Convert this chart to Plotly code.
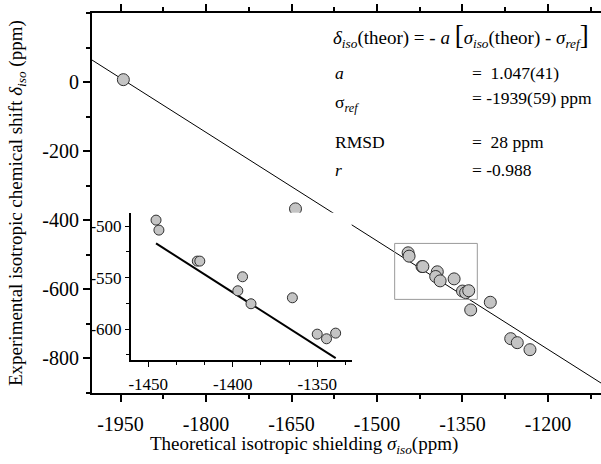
import plotly.graph_objects as go

# ---------------- data ----------------
sigma_iso = [-1945, -1643, -1445.4, -1443.7, -1421.0, -1419.5, -1394.2, -1397.0,
             -1389.2, -1364.7, -1350.0, -1344.5, -1339.1, -1335.6, -1301.2,
             -1265.4, -1253.9, -1231.6]
delta_iso = [7, -367, -494.2, -503.9, -534.0, -534.0, -549.2, -562.8,
             -575.4, -569.6, -604.9, -609.4, -603.9, -659.6, -637.3,
             -742.7, -754.3, -774.6]
a_fit = 1.047
sigma_ref = -1939

main_xticks = [-1950, -1800, -1650, -1500, -1350, -1200]
main_yticks = [-800, -600, -400, -200, 0]
inset_xticks = [-1450, -1400, -1350]
inset_yticks = [-600, -550, -500]

main_xrange = [-2000, -1107]
main_yrange = [-900, 200]
inset_xrange = [-1460.4, -1329.6]
inset_yrange = [-630, -487]
box_x = [-1469, -1324]
box_y = [-629, -467]

def fit(s):
    return -a_fit * (s - sigma_ref)

# ---------------- layout geometry ----------------
W, H = 601, 464
L, R, T, B = 92, 0, 13, 71
PW, PH = W - L - R, H - T - B

def px(x, y):
    return (x - L) / PW, (H - B - y) / PH

FONT = "Liberation Serif"

fig = go.Figure()

# main fit line
fig.add_trace(go.Scatter(x=main_xrange, y=[fit(v) for v in main_xrange],
                         mode="lines", line=dict(color="black", width=1),
                         xaxis="x", yaxis="y", hoverinfo="skip"))
# main points
fig.add_trace(go.Scatter(x=sigma_iso, y=delta_iso, mode="markers",
                         marker=dict(size=12, color="#c4c4c4",
                                     line=dict(color="#303030", width=1)),
                         xaxis="x", yaxis="y"))

# inset
in_pts = [(s, d) for s, d in zip(sigma_iso, delta_iso)
          if inset_xrange[0] <= s <= inset_xrange[1] and inset_yrange[0] <= d <= inset_yrange[1]]
lx = [min(p[0] for p in in_pts), max(p[0] for p in in_pts)]
fig.add_trace(go.Scatter(x=lx, y=[fit(v) for v in lx], mode="lines",
                         line=dict(color="black", width=2),
                         xaxis="x2", yaxis="y2", hoverinfo="skip"))
fig.add_trace(go.Scatter(x=sigma_iso, y=delta_iso, mode="markers",
                         marker=dict(size=10, color="#c4c4c4",
                                     line=dict(color="#303030", width=1)),
                         xaxis="x2", yaxis="y2"))

ix0, iy0 = px(130.7, 360)
ix1, iy1 = px(351.7, 212.7)

def labels(vals):
    return [str(v) for v in vals]

fig.update_layout(
    width=W, height=H, margin=dict(l=L, r=R, t=T, b=B),
    paper_bgcolor="white", plot_bgcolor="white", showlegend=False,
    font=dict(family=FONT, color="black"),
    xaxis=dict(domain=[0, 1], range=main_xrange, tickvals=main_xticks,
               ticktext=labels(main_xticks), ticklabelstandoff=5,
               showline=True, linecolor="black", linewidth=2, mirror="allticks",
               ticks="outside", ticklen=7, tickwidth=1.5, tickcolor="black",
               tickfont=dict(size=20, family=FONT),
               minor=dict(dtick=75, tick0=-1950, ticks="outside", ticklen=4,
                          tickwidth=1.5, tickcolor="black"),
               showgrid=False, zeroline=False),
    yaxis=dict(domain=[0, 1], range=main_yrange, tickvals=main_yticks,
               ticktext=labels(main_yticks),
               showline=True, linecolor="black", linewidth=2,
               ticks="outside", ticklen=7, tickwidth=1.5, tickcolor="black",
               tickfont=dict(size=20, family=FONT),
               minor=dict(dtick=100, tick0=-900, ticks="outside", ticklen=4,
                          tickwidth=1.5, tickcolor="black"),
               showgrid=False, zeroline=False),
    xaxis2=dict(domain=[ix0, ix1], anchor="y2", range=inset_xrange,
                tickvals=inset_xticks, ticktext=labels(inset_xticks),
                ticklabelstandoff=3,
                showline=True, linecolor="black",
                linewidth=1.5, ticks="outside", ticklen=5, tickwidth=1,
                tickcolor="black", tickfont=dict(size=17, family=FONT),
                minor=dict(dtick=50 / 3, tick0=-1450, ticks="outside", ticklen=3,
                           tickwidth=1, tickcolor="black"),
                showgrid=False, zeroline=False),
    yaxis2=dict(domain=[iy0, iy1], anchor="x2", range=inset_yrange,
                tickvals=inset_yticks, ticktext=labels(inset_yticks),
                showline=True, linecolor="black",
                linewidth=1.5, ticks="outside", ticklen=4, tickwidth=1,
                tickcolor="black", tickfont=dict(size=17, family=FONT),
                minor=dict(dtick=25, tick0=-600, ticks="outside", ticklen=3,
                           tickwidth=1, tickcolor="black"),
                showgrid=False, zeroline=False),
)

fig.add_shape(type="rect", xref="x", yref="y", x0=box_x[0], x1=box_x[1],
              y0=box_y[0], y1=box_y[1], line=dict(color="#999999", width=1))

def ann(text, x, y, size=17.5, xanchor="left", angle=0):
    X, Y = px(x, y)
    fig.add_annotation(text=text, x=X, y=Y, xref="paper", yref="paper",
                       xanchor=xanchor, yanchor="middle", showarrow=False,
                       textangle=angle, font=dict(size=size, family=FONT, color="black"))

NB = "\u00a0"
ann("<i>δ</i><sub><i>iso</i></sub>(theor) = - <i>a</i> <span style='font-size:27px'>[</span>"
    "<i>σ</i><sub><i>iso</i></sub>(theor) - <i>σ</i><sub><i>ref</i></sub>"
    "<span style='font-size:27px'>]</span>", 331, 36, size=19)
ann("<i>a</i>", 333, 73)
ann("=" + NB * 2 + "1.047(41)", 470, 73)
ann("σ<sub><i>ref</i></sub>", 333, 104)
ann("=" + NB + "-1939(59) ppm", 470, 98)
ann("RMSD", 333, 142)
ann("=" + NB * 2 + "28 ppm", 470, 142)
ann("<i>r</i>", 333, 170)
ann("=" + NB + "-0.988", 470, 170)

ann("Theoretical isotropic shielding <i>σ</i><sub><i>iso</i></sub>(ppm)", 304, 445,
    size=19, xanchor="center")
ann("Experimental isotropic chemical shift <i>δ</i><sub><i>iso</i></sub> (ppm)", 17, 203,
    size=19, xanchor="center", angle=-90)

fig.write_html("out.html", config={"displayModeBar": False},
               post_script="document.body.style.margin='0';document.body.style.padding='0';")
